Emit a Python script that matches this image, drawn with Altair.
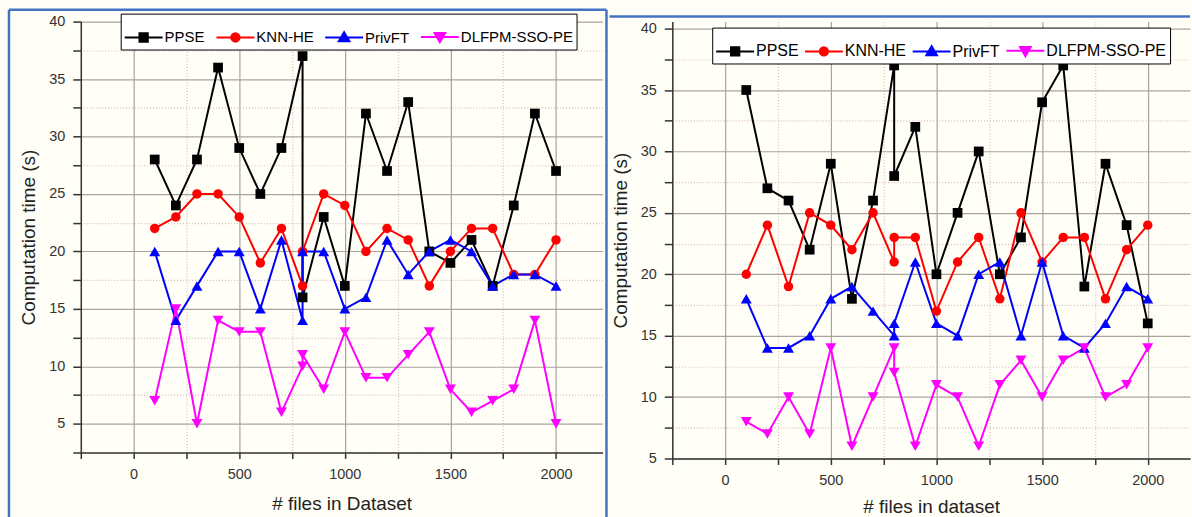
import altair as alt
import pandas as pd

# ---------------- data ----------------
x_files = [100, 200, 300, 400, 500, 600, 700, 800, 800, 900, 1000,
           1100, 1200, 1300, 1400, 1500, 1600, 1700, 1800, 1900, 2000]
series_names = ["PPSE", "KNN-HE", "PrivFT", "DLFPM-SSO-PE"]

left_ppse = [28, 24, 28, 36, 29, 25, 29, 37, 16, 23, 17, 32, 27, 33, 20, 19, 21, 17, 24, 32, 27]
left_knn = [22, 23, 25, 25, 23, 19, 22, 17, 20, 25, 24, 20, 22, 21, 17, 20, 22, 22, 18, 18, 21]
left_priv = [20, 14, 17, 20, 20, 15, 21, 14, 20, 20, 15, 16, 21, 18, 20, 21, 20, 17, 18, 18, 17]
left_dlf = [7, 15, 5, 14, 13, 13, 6, 10, 11, 8, 13, 9, 9, 11, 13, 8, 6, 7, 8, 14, 5]

right_ppse = [35, 27, 26, 22, 29, 18, 26, 37, 28, 32, 20, 25, 30, 20, 23, 34, 37, 19, 29, 24, 16]
right_knn = [20, 24, 19, 25, 24, 22, 25, 21, 23, 23, 17, 21, 23, 18, 25, 21, 23, 23, 18, 22, 24]
right_priv = [18, 14, 14, 15, 18, 19, 17, 15, 16, 21, 16, 15, 20, 21, 15, 21, 15, 14, 16, 19, 18]
right_dlf = [8, 7, 10, 7, 14, 6, 10, 14, 12, 6, 11, 10, 6, 11, 13, 10, 13, 14, 10, 11, 14]

y_ticks_left = [2.5, 5, 7.5, 10, 12.5, 15, 17.5, 20, 22.5, 25, 27.5, 30, 32.5, 35, 37.5, 40]
y_ticks_right = [5, 7.5, 10, 12.5, 15, 17.5, 20, 22.5, 25, 27.5, 30, 32.5, 35, 37.5, 40]
x_ticks = [-250, 0, 250, 500, 750, 1000, 1250, 1500, 1750, 2000]

# ---------------- styles ----------------
colors = ["#000000", "#ff0000", "#0000ff", "#ff00ff"]
marker_shapes = ["square", "circle", "triangle-up", "triangle-down"]
marker_sizes = [95, 90, 120, 120]
legend_paths = [
    "M-1,0H1M-0.22,-0.22H0.22V0.22H-0.22Z",
    "M-1,0H1M0.22,0A0.22,0.22,0,1,1,-0.22,0A0.22,0.22,0,1,1,0.22,0Z",
    "M-1,0H1M0,-0.28L0.28,0.2L-0.28,0.2Z",
    "M-1,0H1M0,0.28L0.28,-0.2L-0.28,-0.2Z",
]
BLUE = "#4472c4"
FONT = "Liberation Sans"


def make_df(vals_list):
    rows = []
    for name, vals in zip(series_names, vals_list):
        for i, (x, y) in enumerate(zip(x_files, vals)):
            rows.append({"x": x, "y": y, "series": name, "idx": i})
    return pd.DataFrame(rows)


def panel(df, ydomain, yvals, xdomain, width, height, xtitle, xtpad,
          lx, ly, lfont, lsym, lgap, borders):
    xenc = alt.X(
        "x:Q",
        scale=alt.Scale(domain=xdomain, nice=False, zero=False),
        axis=alt.Axis(
            values=x_ticks, format="d", title=xtitle, labelOverlap=False,
            labelExpr="datum.value >= 0 && datum.value % 500 === 0 ? datum.label : ''",
            tickSize=6, labelPadding=9, titlePadding=xtpad, labelFlush=False,
            gridDash={"condition": {"test": "datum.value % 500 === 0", "value": [1, 0]}, "value": [1, 2]},
            gridColor={"condition": {"test": "datum.value % 500 === 0", "value": "#a9a39e"}, "value": "#d8bcbc"},
        ),
    )
    yenc = alt.Y(
        "y:Q",
        scale=alt.Scale(domain=ydomain, nice=False, zero=False),
        axis=alt.Axis(
            values=yvals, format="d", title="Computation time (s)", labelOverlap=False,
            labelExpr="datum.value % 5 === 0 ? datum.label : ''",
            tickSize=8, labelPadding=8, titlePadding=10, labelFlush=False,
            gridDash={"condition": {"test": "datum.value % 5 === 0", "value": [1, 0]}, "value": [1, 2]},
            gridColor={"condition": {"test": "datum.value % 5 === 0", "value": "#a9a39e"}, "value": "#d8bcbc"},
        ),
    )
    base = alt.Chart(df).encode(x=xenc, y=yenc)
    layers = []
    for name, col in zip(series_names, colors):
        layers.append(
            base.transform_filter(alt.datum.series == name)
            .mark_line(strokeWidth=2, color=col)
            .encode(order="idx:Q")
        )
    for name, col, shp, sz in zip(series_names, colors, marker_shapes, marker_sizes):
        layers.append(
            base.transform_filter(alt.datum.series == name).mark_point(
                shape=shp, filled=True, size=sz, color=col, opacity=1
            )
        )
    leg = dict(
        orient="none", legendX=lx, legendY=ly, direction="horizontal", title=None,
        symbolSize=lsym, symbolStrokeWidth=2, symbolOpacity=1,
        labelFontSize=lfont, labelFont=FONT, labelColor="#000", labelOffset=1,
        columnPadding=lgap, padding=3, fillColor="#ffffff", strokeColor="#000000",
    )
    # legend-only layer: no rows drawn, the legend comes from the explicit scale domains
    legend_layer = base.transform_filter("false").mark_point(filled=True).encode(
        fill=alt.Fill("series:N", scale=alt.Scale(domain=series_names, range=colors), legend=alt.Legend(**leg)),
        stroke=alt.Stroke("series:N", scale=alt.Scale(domain=series_names, range=colors), legend=alt.Legend(**leg)),
        shape=alt.Shape("series:N", scale=alt.Scale(domain=series_names, range=legend_paths), legend=alt.Legend(**leg)),
    )
    layers.append(legend_layer)
    one = pd.DataFrame({"a": [0]})
    for b in borders:
        layers.append(alt.Chart(one).mark_rule(color=BLUE, strokeWidth=2.5).encode(**b))
    return alt.layer(*layers).properties(width=width, height=height)


left_df = make_df([left_ppse, left_knn, left_priv, left_dlf])
right_df = make_df([right_ppse, right_knn, right_priv, right_dlf])

left_borders = [
    dict(x=alt.value(-72), y=alt.value(-12), y2=alt.value(497)),
    dict(x=alt.value(527), y=alt.value(-12), y2=alt.value(497)),
    dict(x=alt.value(-72), x2=alt.value(527), y=alt.value(-12)),
]
right_borders = [
    dict(x=alt.value(-63), x2=alt.value(519), y=alt.value(-5)),
]

left = panel(left_df, [2.5, 40], y_ticks_left, [-250, 2220], 523, 432,
             "# files in Dataset", 14, 40, -8, 15, 1444, 7, left_borders)
right = panel(right_df, [5, 40.57], y_ticks_right, [-250, 2200], 519, 438,
              "# files in dataset", 11, 40, 6, 16, 1444, 2, right_borders)

chart = (
    alt.hconcat(left, right, spacing=70, bounds="flush")
    .resolve_scale(fill="independent", stroke="independent", shape="independent")
    .resolve_legend(fill="independent", stroke="independent", shape="independent")
    .properties(padding={"left": 7, "top": 7, "right": 0, "bottom": 0})
    .configure(font=FONT, background="#fffef7")
    .configure_view(stroke=None)
    .configure_axis(
        domainColor="#333333", domainWidth=1.5, tickColor="#333333", tickWidth=1.5,
        labelColor="#333333", labelFontSize=14.5, labelFont=FONT,
        titleFontSize=19, titleFontWeight="normal", titleColor="#222222", titleFont=FONT,
        gridWidth=1.2,
    )
)

chart.save("out.html", embed_options={"renderer": "svg", "actions": False})
